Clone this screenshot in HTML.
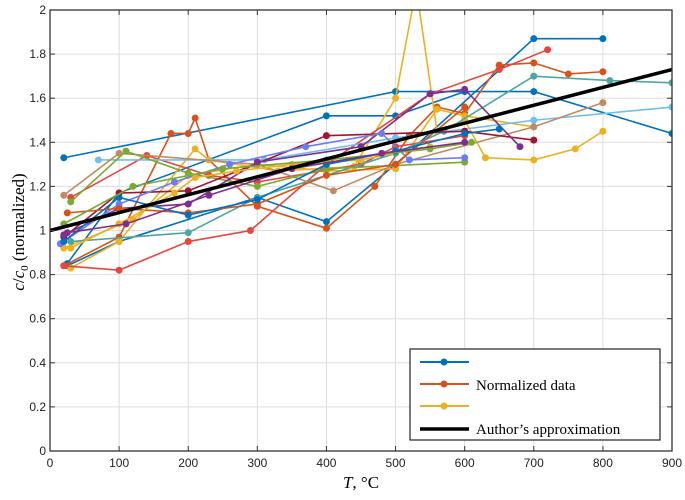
<!DOCTYPE html>
<html><head><meta charset="utf-8"><style>
body{margin:0;background:#fff;}
svg text{font-family:"Liberation Sans",sans-serif;}
</style></head><body>
<svg id="chart" width="685" height="495" xmlns="http://www.w3.org/2000/svg">
<g id="grid"></g>
<g id="series"></g>
<g id="axes"></g>
<text x="0" y="0" transform="translate(24,232) rotate(-90)" text-anchor="middle" font-family="Liberation Serif, serif" font-size="17" style="font-family:'Liberation Serif',serif"><tspan font-style="italic">c</tspan>/<tspan font-style="italic">c</tspan><tspan font-size="11" dy="4">0</tspan><tspan dy="-4"> (normalized)</tspan></text>
<text x="361" y="488" text-anchor="middle" font-size="17" style="font-family:'Liberation Serif',serif"><tspan font-style="italic">T</tspan>, °C</text>
<g id="legend">
<rect x="410" y="349" width="250" height="91" fill="#fff" stroke="#222" stroke-width="1.2"/>
<g><line x1="420" y1="362" x2="469" y2="362" stroke="#0072BD" stroke-width="2"/><circle cx="444" cy="362" r="3.5" fill="#0072BD"/></g>
<g><line x1="420" y1="384" x2="469" y2="384" stroke="#D95319" stroke-width="2"/><circle cx="444" cy="384" r="3.5" fill="#D95319"/><text x="476" y="390" font-size="15" style="font-family:'Liberation Serif',serif">Normalized data</text></g>
<g><line x1="420" y1="406" x2="469" y2="406" stroke="#EDB120" stroke-width="2"/><circle cx="444" cy="406" r="3.5" fill="#EDB120"/></g>
<g><line x1="420" y1="429" x2="469" y2="429" stroke="#000" stroke-width="3.5"/><text x="476" y="434" font-size="15" style="font-family:'Liberation Serif',serif">Author’s approximation</text></g>
</g>
</svg>
<script>
const xTicks=[0,100,200,300,400,500,600,700,800,900];
const yTicks=[0,0.2,0.4,0.6,0.8,1,1.2,1.4,1.6,1.8,2];
const yTickLabels=["0","0.2","0.4","0.6","0.8","1","1.2","1.4","1.6","1.8","2"];
const seriesColors=["#0072BD","#0072BD","#0072BD","#D95319","#EDB120","#EDB120","#E8453C","#E8453C","#4DA6A0","#6DC0F0","#C08A64","#77AC30","#A2142F","#7E2F8E","#6C7CF5","#D95319","#EDB120","#0072BD","#77AC30","#7E2F8E"];
const s0T=[20,500,700,900], s0V=[1.33,1.63,1.63,1.44];
const s1T=[25,100,400,500,600], s1V=[0.85,1.17,1.52,1.52,1.63];
const s2T=[25,100,300,400,500,700,800], s2V=[0.84,0.95,1.15,1.04,1.30,1.87,1.87];
const s3T=[20,100,175,200,210,230,300,400,470,520,560,600,650,700,750,800], s3V=[0.84,0.97,1.44,1.44,1.51,1.32,1.11,1.01,1.20,1.43,1.56,1.53,1.75,1.76,1.71,1.72];
const s4T=[30,100,210,230,330,440,500,530,560,600,630,700,760,800], s4V=[0.83,0.95,1.37,1.32,1.27,1.29,1.60,2.10,1.45,1.50,1.33,1.32,1.37,1.45];
const s5T=[20,120,200,300,400,500,560,600,700], s5V=[0.92,1.05,1.25,1.30,1.27,1.28,1.55,1.52,1.47];
const s6T=[20,100,200,290,400,550,650,720], s6V=[0.84,0.82,0.95,1.00,1.30,1.62,1.73,1.82];
const s7T=[30,140,230,300,450,500,600], s7V=[1.15,1.34,1.25,1.22,1.30,1.38,1.43];
const s8T=[30,200,300,500,570,700,810,900], s8V=[0.95,0.99,1.15,1.35,1.45,1.70,1.68,1.67];
const s9T=[70,310,500,700,900], s9V=[1.32,1.32,1.42,1.50,1.56];
const s10T=[20,100,300,410,500,700,800], s10V=[1.16,1.35,1.30,1.18,1.30,1.47,1.58];
const s11T=[30,110,200,300,400,600], s11V=[1.13,1.36,1.26,1.20,1.28,1.31];
const s12T=[20,100,200,400,600,700], s12V=[0.97,1.17,1.18,1.43,1.45,1.41];
const s13T=[20,100,200,300,450,550,600,680], s13V=[0.98,1.10,1.12,1.31,1.38,1.62,1.64,1.38];
const s14T=[15,100,180,260,370,480,520,600], s14V=[0.94,1.12,1.22,1.30,1.38,1.44,1.32,1.33];
const s15T=[25,100,200,300,400,500,600], s15V=[1.08,1.10,1.08,1.12,1.25,1.30,1.56];
const s16T=[30,100,180,210,270,350,450,550], s16V=[0.92,1.03,1.17,1.24,1.27,1.30,1.32,1.38];
const s17T=[20,100,200,300,400,500,600,650], s17V=[0.95,1.15,1.07,1.14,1.30,1.36,1.44,1.46];
const s18T=[20,120,250,400,550,610], s18V=[1.03,1.20,1.28,1.32,1.37,1.40];
const s19T=[25,110,230,350,480,600], s19V=[0.99,1.03,1.16,1.28,1.35,1.40];
const seriesT=[s0T,s1T,s2T,s3T,s4T,s5T,s6T,s7T,s8T,s9T,s10T,s11T,s12T,s13T,s14T,s15T,s16T,s17T,s18T,s19T];
const seriesV=[s0V,s1V,s2V,s3V,s4V,s5V,s6V,s7V,s8V,s9V,s10V,s11V,s12V,s13V,s14V,s15V,s16V,s17V,s18V,s19V];
const approxT=[0,900], approxV=[1.0,1.73];
const NS="http://www.w3.org/2000/svg";
const X0=50,X1=672,Y0=451,Y1=10;
const xs=t=>X0+(t/900)*(X1-X0);
const ys=v=>Y0-(v/2)*(Y0-Y1);
function mk(tag,attrs,parent){const e=document.createElementNS(NS,tag);for(const k in attrs)e.setAttribute(k,attrs[k]);parent.appendChild(e);return e;}
const grid=document.getElementById('grid'),axes=document.getElementById('axes'),ser=document.getElementById('series');
mk('rect',{x:X0,y:Y1,width:X1-X0,height:Y0-Y1,fill:'#fff'},grid);
xTicks.forEach((t,i)=>{
 const g=mk('line',{x1:xs(t),x2:xs(t),y1:Y1,y2:Y0,stroke:'#ddd','stroke-width':1},grid);
 
 
 mk('line',{x1:xs(t),x2:xs(t),y1:Y0,y2:Y0-5,stroke:'#333'},axes);
 mk('line',{x1:xs(t),x2:xs(t),y1:Y1,y2:Y1+5,stroke:'#333'},axes);
 const l=mk('text',{x:xs(t),y:Y0+16,'text-anchor':'middle','font-size':12,fill:'#222'},axes);
 l.textContent=String(t);
 
 
});
yTicks.forEach((v,i)=>{
 const g=mk('line',{x1:X0,x2:X1,y1:ys(v),y2:ys(v),stroke:'#ddd','stroke-width':1},grid);
 
 
 mk('line',{x1:X0,x2:X0+5,y1:ys(v),y2:ys(v),stroke:'#333'},axes);
 mk('line',{x1:X1,x2:X1-5,y1:ys(v),y2:ys(v),stroke:'#333'},axes);
 const l=mk('text',{x:X0-4,y:ys(v)+4,'text-anchor':'end','font-size':12,fill:'#222'},axes);
 l.textContent=yTickLabels[i];
 
 
});
mk('rect',{x:X0,y:Y1,width:X1-X0,height:Y0-Y1,fill:'none',stroke:'#333','stroke-width':1.3},axes);
const defs=mk('defs',{},ser);
const cp=mk('clipPath',{id:'clip'},defs);
mk('rect',{x:X0,y:Y1,width:X1-X0,height:Y0-Y1},cp);
seriesT.forEach((T,i)=>{
 const V=seriesV[i],c=seriesColors[i];
 const g=mk('g',{'clip-path':'url(#clip)'},ser);
 
 
 mk('polyline',{points:T.map((t,j)=>xs(t)+','+ys(V[j])).join(' '),fill:'none',stroke:c,'stroke-width':1.6},g);
 T.forEach((t,j)=>{
  const p=mk('circle',{cx:xs(t),cy:ys(V[j]),r:3.5,fill:c},g);
  
  
 });
});
const ap=mk('polyline',{points:approxT.map((t,j)=>xs(t)+','+ys(approxV[j])).join(' '),fill:'none',stroke:'#000','stroke-width':3.5},ser);


</script>
</body></html>
